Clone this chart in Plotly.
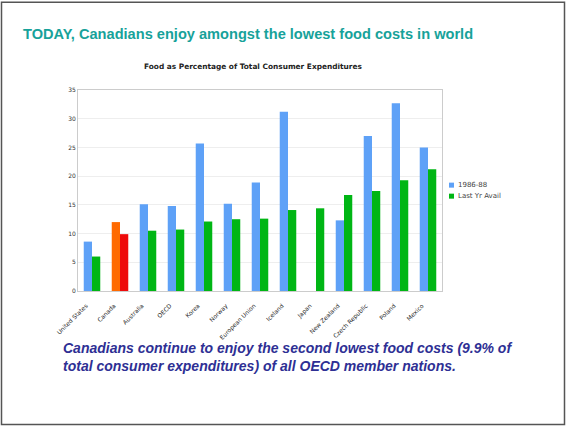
import plotly.graph_objects as go

countries = ["United States", "Canada", "Australia", "OECD", "Korea", "Norway",
             "European Union", "Iceland", "Japan", "New Zealand", "Czech Republic",
             "Poland", "Mexico"]
values_1986_88 = [8.6, 12.0, 15.1, 14.8, 25.7, 15.2, 18.9, 31.2, None, 12.3, 27.0, 32.7, 25.0]
values_last_yr = [6.0, 9.9, 10.5, 10.7, 12.1, 12.5, 12.6, 14.1, 14.4, 16.7, 17.4, 19.3, 21.2]
series_names = ["1986-88", "Last Yr Avail"]
y_ticks = [0, 5, 10, 15, 20, 25, 30, 35]

blue = "#5ea1f7"
green = "#00b614"
series_colors = [blue, green]
colors_a = ["#ff6a00" if c == "Canada" else blue for c in countries]
colors_b = ["#ee0b0b" if c == "Canada" else green for c in countries]

W, H = 566, 426
L, R, T, B = 78, 442, 90, 290.7
pw, ph = R - L, B - T

def px(x):
    return (x - L) / pw

def py(y):
    return (B - y) / ph

fig = go.Figure()
fig.add_trace(go.Bar(x=countries, y=values_1986_88, name=series_names[0], showlegend=False,
                     marker=dict(color=colors_a, line=dict(width=0))))
fig.add_trace(go.Bar(x=countries, y=values_last_yr, name=series_names[1], showlegend=False,
                     marker=dict(color=colors_b, line=dict(width=0))))

fig.update_layout(
    width=W, height=H,
    margin=dict(l=L, r=W - R, t=T, b=H - B, pad=0),
    paper_bgcolor="white", plot_bgcolor="white",
    barmode="group", bargap=0.41, bargroupgap=0,
    font=dict(family="DejaVu Sans"),
)
fig.update_xaxes(tickangle=-45,
                 tickfont=dict(family="DejaVu Sans", size=6, color="#1e1e1e"),
                 ticklabelstandoff=8, ticklabelshift=-6,
                 showline=True, linecolor="#cccccc", linewidth=1, mirror=True,
                 ticks="", showgrid=False)
fig.update_yaxes(range=[0, 35], tickvals=y_ticks,
                 tickfont=dict(family="DejaVu Sans", size=6, color="#333333"),
                 showgrid=True, gridcolor="#eeeeee", gridwidth=1,
                 showline=True, linecolor="#cccccc", linewidth=1, mirror=True,
                 ticks="", zeroline=False)

# manual compact legend
for i, (name, col) in enumerate(zip(series_names, series_colors)):
    yy = 185 + i * 11
    fig.add_shape(type="rect", xref="paper", yref="paper",
                  x0=px(449), x1=px(454), y0=py(yy + 2.5), y1=py(yy - 2.5),
                  fillcolor=col, line=dict(width=0))
    fig.add_annotation(text=name, xref="paper", yref="paper", x=px(456), y=py(yy),
                       xanchor="left", yanchor="middle", showarrow=False,
                       font=dict(family="DejaVu Sans", size=7, color="#444444"))

# slide border
fig.add_shape(type="rect", xref="paper", yref="paper",
              x0=px(1.5), x1=px(564.5), y0=py(424), y1=py(2.5),
              line=dict(color="#555555", width=1.5), fillcolor="rgba(0,0,0,0)", layer="below")

fig.add_annotation(text="<b>TODAY, Canadians enjoy amongst the lowest food costs in world</b>",
                   xref="paper", yref="paper", x=px(21), y=py(34), xanchor="left", yanchor="middle",
                   showarrow=False, font=dict(family="Liberation Sans", size=14.6, color="#17a29a"))
fig.add_annotation(text="<b>Food as Percentage of Total Consumer Expenditures</b>",
                   xref="paper", yref="paper", x=px(253), y=py(66.5), xanchor="center", yanchor="middle",
                   showarrow=False, font=dict(family="DejaVu Sans", size=7.4, color="#222222"))
fig.add_annotation(text="<b><i>Canadians continue to enjoy the second lowest food costs (9.9% of<br>total consumer expenditures) of all OECD member nations.</i></b>",
                   xref="paper", yref="paper", x=px(61), y=py(338), xanchor="left", yanchor="top",
                   align="left", showarrow=False,
                   font=dict(family="Liberation Sans", size=14, color="#2e2f94"))

fig.write_html("out.html", config={"displayModeBar": False},
               post_script="document.body.style.margin='0';document.body.style.overflow='hidden';")
